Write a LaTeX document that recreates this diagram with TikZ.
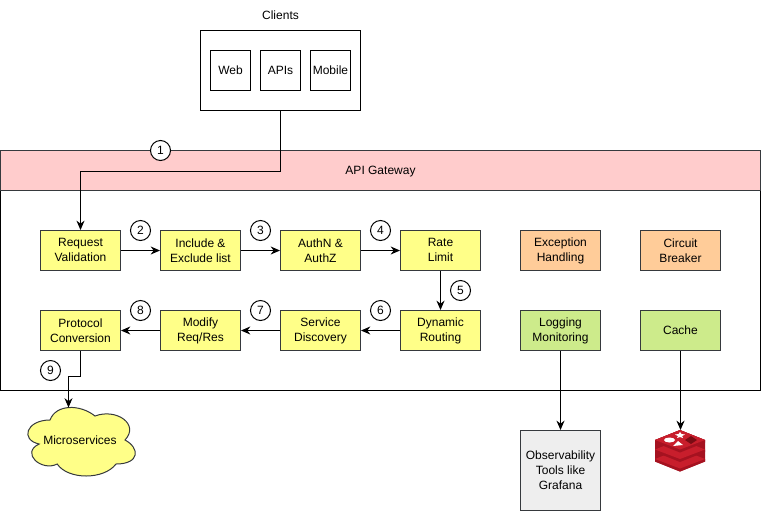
\documentclass[tikz,border=0pt]{standalone}
\usepackage{fontspec}
\setmainfont{Liberation Sans}
\usetikzlibrary{matrix,positioning}
\usetikzlibrary{arrows.meta}
\definecolor{edgegrey}{HTML}{36393D}
\definecolor{noteyellow}{HTML}{FFFF88}
\definecolor{headerpink}{HTML}{FFCCCC}
\definecolor{noteorange}{HTML}{FFCC99}
\definecolor{notegreen}{HTML}{CDEB8B}
\definecolor{toolgrey}{HTML}{EEEEEE}
\definecolor{redisfront}{HTML}{A51220}
\definecolor{redistop}{HTML}{C81E2C}
\definecolor{redisdark}{HTML}{7A0C14}
\newcommand{\boxstrut}{\rule[-2.4pt]{0pt}{11.25pt}}
\newcommand{\linestrut}{\rule[-0.3pt]{0pt}{11.25pt}}
\tikzset{
  basetext/.style={inner sep=0pt, align=center, font=\fontsize{9}{11.25}\selectfont},
  boxtext/.style={basetext, execute at begin node=\boxstrut, execute at end node=\boxstrut},
  linestext/.style={basetext, execute at begin node=\linestrut, execute at end node=\linestrut},
  boxframe/.style={anchor=center, draw=edgegrey, fill=noteyellow, line width=0.75pt, minimum width=60pt, minimum height=30pt},
  flowbox/.style={linestext, boxframe},
  stopbox/.style={flowbox, fill=noteorange},
  watchbox/.style={flowbox, fill=notegreen},
  cachebox/.style={boxtext, boxframe, fill=notegreen},
  clientbox/.style={boxtext, draw, line width=0.75pt, fill=white, minimum width=30pt, minimum height=30pt},
  stepmark/.style={draw, circle, fill=white, line width=0.75pt, minimum size=15pt, inner sep=0pt, font=\fontsize{9}{11.25}\selectfont},
}
\begin{document}
\begin{tikzpicture}[x=0.75pt, y=-0.75pt, >={Stealth[length=7pt,width=6pt]}, line width=0.75pt]
  \useasboundingbox (0,0) rectangle (762,511);

  % Gateway frame
  \draw[fill=white] (0.5,150.5) rectangle (760.5,390.5);
  \node[boxtext, draw=edgegrey, fill=headerpink, line width=0.75pt, minimum width=570pt, minimum height=30pt] (gateway) at (380.5,170.5) {API Gateway};

  % Clients
  \node[boxtext] (clientlabel) at (280.5,15) {Clients};
  \node[draw, fill=white, line width=0.75pt, minimum width=120pt, minimum height=60pt] (clients) at (280.5,70.5) {};
  \node[clientbox] (web) at (230.5,70.5) {Web};
  \node[clientbox] (apis) at (280.5,70.5) {APIs};
  \node[clientbox] (mobile) at (330.5,70.5) {Mobile};

  % Gateway stages
  \matrix (m) [row sep=29.25pt, column sep=29.25pt] at (380.5,290.5)
  {
    \node[flowbox] (request) {Request\\Validation}; & \node[flowbox] (include) {Include \&\\Exclude list}; & \node[flowbox] (auth) {AuthN \&\\AuthZ}; & \node[flowbox] (rate) {Rate\\Limit}; & \node[stopbox] (exception) {Exception\\Handling}; & \node[stopbox] (breaker) {Circuit\\Breaker}; \\
    \node[flowbox] (protocol) {Protocol\\Conversion}; & \node[flowbox] (modify) {Modify\\Req/Res}; & \node[flowbox] (discovery) {Service\\Discovery}; & \node[flowbox] (routing) {Dynamic\\Routing}; & \node[watchbox] (logging) {Logging\\Monitoring}; & \node[cachebox] (cache) {Cache}; \\
  };

  % Microservices cloud
  \draw[draw=edgegrey, fill=noteyellow] (50,420)
    .. controls (26,420) and (20,440) .. (39.2,444)
    .. controls (20,452.8) and (41.6,472) .. (57.2,464)
    .. controls (68,480) and (104,480) .. (116,464)
    .. controls (140,464) and (140,448) .. (125,440)
    .. controls (140,424) and (116,408) .. (95,416)
    .. controls (80,404) and (56,404) .. (50,420) -- cycle;
  \node[boxtext] (micro) at (80,440) {Microservices};
  \coordinate (microtop) at (68.5,407.5);

  % Observability
  \node[linestext, draw=edgegrey, fill=toolgrey, line width=0.75pt, minimum width=60pt, minimum height=60pt] (tools) at (560.5,470.5) {Observability\\Tools like\\Grafana};

  % Redis icon
  \fill[redisfront] (655,440) -- (680,430) -- (705,440) -- (705,461.5) -- (680,471.5) -- (655,461.5) -- cycle;
  \foreach \d in {19,9.5,0} {
    \fill[redisfront] (655,440+\d) -- (680,430+\d) -- (705,440+\d) -- (705,442.5+\d) -- (680,452.5+\d) -- (655,442.5+\d) -- cycle;
    \fill[redistop] (655,440+\d) -- (680,430+\d) -- (705,440+\d) -- (680,449.5+\d) -- cycle;
  }
  \fill[white] (669.5,440) ellipse (5.5 and 2.5);
  \fill[white] (680,432) -- (681.5,434) -- (685,434.5) -- (682,436) -- (683,438) -- (680,437) -- (677,438) -- (678,436) -- (675,434.5) -- (678.5,434) -- cycle;
  \fill[white] (673,446) -- (678,441) -- (683,445) -- cycle;
  \fill[redisdark] (691,436) -- (697,440) -- (691,444) -- (685,440) -- cycle;
  \coordinate (redistip) at (680.5,430);

  % Arrows between the stages
  \draw[->] (clients.south) -- ++(0,60) -| (request.north);
  \path[->] (request) edge (include);
  \path[->] (include) edge (auth);
  \path[->] (auth) edge (rate);
  \path[->] (rate) edge (routing);
  \path[->] (routing) edge (discovery);
  \path[->] (discovery) edge (modify);
  \path[->] (modify) edge (protocol);
  \draw[->] (protocol.south) -- ++(0,25) -| (microtop);
  \path[->] (logging) edge (tools);
  \path[->] (cache.south) edge (redistip);

  % Step numbers
  \node[stepmark] (s1) at (160.5,150.5) {1};
  \node[stepmark] (s2) at (140.5,230.5) {2};
  \node[stepmark] (s3) at (260.5,230.5) {3};
  \node[stepmark] (s4) at (380.5,230.5) {4};
  \node[stepmark] (s5) at (460.5,290.5) {5};
  \node[stepmark] (s6) at (380.5,310.5) {6};
  \node[stepmark] (s7) at (260.5,310.5) {7};
  \node[stepmark] (s8) at (140.5,310.5) {8};
  \node[stepmark] (s9) at (50.5,370.5) {9};
\end{tikzpicture}
\end{document}
